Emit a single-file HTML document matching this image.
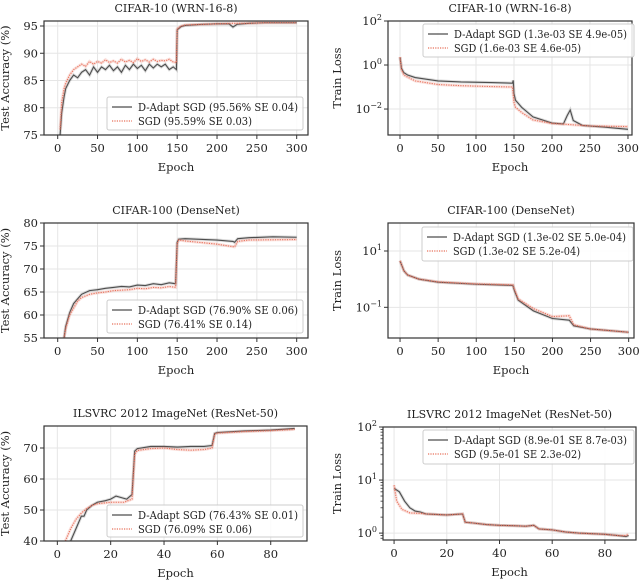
<!DOCTYPE html>
<html><head><meta charset="utf-8"><style>
html,body{margin:0;padding:0;background:#fff;}
svg{display:block;font-family:"DejaVu Serif","Liberation Serif",serif;}
</style></head><body>
<svg id="fig" width="640" height="583" viewBox="0 0 640 583" xmlns="http://www.w3.org/2000/svg"></svg>
<script>
// ---- Data ----
const c10AccEpD = [3,5,8,10,15,20,25,30,35,40,45,50,55,60,65,70,75,80,85,90,95,100,105,110,115,120,125,130,135,140,145,149,150,155,160,180,200,215,220,225,240,260,300];
const c10AccD   = [75,79,82,83.5,85,86,85.5,86.5,87,86,87.5,86.5,87.5,87,87.8,86.8,87.5,86.5,87.8,87,88,87.2,87.8,86.8,88,87.3,88,87.5,88,87,87.5,87,94.3,94.9,95.1,95.3,95.4,95.4,94.8,95.3,95.5,95.6,95.6];
const c10AccEpS = [3,5,8,10,15,20,25,30,35,40,45,50,55,60,65,70,75,80,85,90,95,100,105,110,115,120,125,130,135,140,145,149,150,155,160,180,200,220,240,260,300];
const c10AccS   = [76,81,83.5,84.5,86,87,87.5,88,87.6,88.5,88,88.5,88.2,88.8,88.3,88.6,88.2,88.9,88.4,88.7,88.3,89,88.5,88.8,88.4,88.9,88.5,88.7,88.6,88.9,88.4,88.3,94.5,95,95.2,95.3,95.4,95.5,95.5,95.6,95.6];

const c10LossEpD = [0,2,5,10,20,50,80,120,148,149,150,152,160,175,200,215,220,224,228,240,270,300];
const c10LossD   = [2.3,0.7,0.45,0.35,0.27,0.19,0.17,0.16,0.15,0.2,0.05,0.025,0.012,0.0044,0.0023,0.0021,0.005,0.009,0.003,0.0018,0.0015,0.0012];
const c10LossEpS = [0,2,5,10,20,50,80,120,148,150,152,160,175,200,220,250,300];
const c10LossS   = [2.3,0.6,0.35,0.28,0.19,0.13,0.115,0.105,0.1,0.02,0.012,0.007,0.0032,0.0022,0.002,0.0017,0.0016];

const c100AccEpD = [8,10,15,20,25,30,40,50,60,70,80,90,100,110,120,130,140,148,150,152,160,200,220,222,226,240,270,300];
const c100AccD   = [55,57.5,60.5,62.5,63.5,64.5,65.3,65.5,65.8,66,66.2,66.1,66.5,66.4,66.8,66.6,67,66.8,75.8,76.5,76.6,76.3,76,75.8,76.6,76.8,77,76.9];
const c100AccEpS = [8,10,15,20,25,30,40,50,60,70,80,90,100,110,120,130,140,148,150,152,160,200,222,226,240,300];
const c100AccS   = [55,57,60,61.5,63,63.8,64.5,64.8,65,65.3,65.4,65.5,65.8,65.7,66,65.9,66.2,66,75.5,76.3,76.1,75.4,74.8,76,76.3,76.4];

const c100LossEpD = [0,5,10,25,50,100,148,150,155,175,200,222,228,250,300];
const c100LossD   = [4.5,2.0,1.4,1.0,0.78,0.66,0.6,0.4,0.18,0.075,0.04,0.035,0.022,0.017,0.013];
const c100LossEpS = [0,5,10,25,50,100,148,150,155,175,200,222,228,250,300];
const c100LossS   = [4.5,2.0,1.4,1.0,0.8,0.68,0.63,0.45,0.2,0.09,0.047,0.05,0.024,0.017,0.013];

const inAccEpD = [5,7,9,10,11,13,15,18,20,22,24,26,28,28.5,29,30,35,40,45,50,55,58,59,60,70,80,89];
const inAccD   = [40,44,48,48,50,51.5,52.5,53,53.5,54.5,54,53.5,55,62,69,69.8,70.5,70.5,70.3,70.5,70.5,70.8,74.7,75,75.5,75.8,76.3];
const inAccEpS = [3,5,7,9,11,13,15,20,25,28,29,30,35,40,45,50,55,58,59,60,70,80,89];
const inAccS   = [40,44,47,49,50.5,51.5,52,52.5,52.5,53.5,68,69.2,69.8,70,69.5,69.3,69.5,70,74.5,74.8,75.3,75.6,76];

const inLossEpD = [0,2,4,6,8,10,12,20,26,27,30,35,40,45,50,53,55,60,65,70,80,85,88,89];
const inLossD   = [7,6,4,3,2.6,2.5,2.3,2.2,2.3,1.6,1.55,1.45,1.4,1.38,1.35,1.4,1.2,1.15,1.05,1.0,0.95,0.9,0.86,0.9];
const inLossEpS = [0,1,3,6,10,12,20,26,27,30,35,40,45,50,53,55,60,65,70,80,85,88,89];
const inLossS   = [8,4,2.8,2.4,2.35,2.3,2.2,2.3,1.6,1.55,1.45,1.4,1.38,1.35,1.4,1.2,1.15,1.05,1.0,0.95,0.9,0.9,0.95];

const ticks300 = [0,50,100,150,200,250,300];
const ticks80 = [0,20,40,60,80];

const NS = "http://www.w3.org/2000/svg";
const svg = document.getElementById('fig');
function mk(tag, attrs, parent){
  const e = document.createElementNS(NS, tag);
  for (const k in attrs) e.setAttribute(k, attrs[k]);
  (parent||svg).appendChild(e);
  return e;
}

function panel(p){
  const g = mk('g', {});
  
  
  const X = v => p.bx0 + (v - p.xmin) / (p.xmax - p.xmin) * (p.bx1 - p.bx0);
  const Y = v => { const t = p.log ? Math.log10(v) : v; return p.by1 - (t - p.ymin) / (p.ymax - p.ymin) * (p.by1 - p.by0); };
  const YT = t => p.by1 - (t - p.ymin) / (p.ymax - p.ymin) * (p.by1 - p.by0);
  p.xticks.forEach(v => {
    const l = mk('line', {x1:X(v), x2:X(v), y1:p.by0, y2:p.by1, stroke:'#e6e6e6', 'stroke-width':1}, g);
    
    
    mk('line', {x1:X(v), x2:X(v), y1:p.by1, y2:p.by1+4, stroke:'#333', 'stroke-width':1}, g);
    const t = mk('text', {x:X(v), y:p.by1+17, 'text-anchor':'middle', 'font-size':11.5, fill:'#222'}, g);
    t.textContent = v;
    
    
  });
  p.yticks.forEach(v => {
    const yy = YT(v);
    const l = mk('line', {x1:p.bx0, x2:p.bx1, y1:yy, y2:yy, stroke:'#e6e6e6', 'stroke-width':1}, g);
    
    
    mk('line', {x1:p.bx0-4, x2:p.bx0, y1:yy, y2:yy, stroke:'#333', 'stroke-width':1}, g);
    const t = mk('text', {x:p.bx0-6, y:yy+4, 'text-anchor':'end', 'font-size':11.5, fill:'#222'}, g);
    if (p.log){
      t.textContent = '10';
      const s = mk('tspan', {dy:-5, 'font-size':8}, t);
      s.textContent = v < 0 ? '\u2212' + (-v) : v;
    } else t.textContent = v;
    
    
  });
  if (p.minor){
    for (let d = Math.floor(p.ymin); d < p.ymax; d++){
      for (let m = 2; m < 10; m++){
        const t = d + Math.log10(m);
        if (t > p.ymin && t < p.ymax){ const yy = YT(t); mk('line', {x1:p.bx0-2.5, x2:p.bx0, y1:yy, y2:yy, stroke:'#333', 'stroke-width':0.8}, g); }
      }
    }
  }
  const cid = 'clip-' + p.name;
  const cp = mk('clipPath', {id:cid}, g);
  mk('rect', {x:p.bx0, y:p.by0, width:p.bx1-p.bx0, height:p.by1-p.by0}, cp);
  const series = [
    {ep:p.epD, v:p.vD, color:'#4d4d4d', dash:'', w:1.1, name:'d-adapt-sgd-line', band:'rgba(90,90,90,0.22)'},
    {ep:p.epS, v:p.vS, color:'#e8705a', dash:'1.2,1.2', w:1.1, name:'sgd-line', band:'rgba(232,120,100,0.22)'}
  ];
  series.forEach(s => {
    const d = s.ep.map((e,i) => (i?'L':'M') + X(e).toFixed(2) + ',' + Y(s.v[i]).toFixed(2)).join('');
    const b = mk('path', {d:d, fill:'none', stroke:s.band, 'stroke-width':3, 'clip-path':'url(#'+cid+')'}, g);
    
    
    const l = mk('path', {d:d, fill:'none', stroke:s.color, 'stroke-width':s.w, 'stroke-dasharray':s.dash, 'clip-path':'url(#'+cid+')'}, g);
    
    
  });
  const box = mk('rect', {x:p.bx0, y:p.by0, width:p.bx1-p.bx0, height:p.by1-p.by0, fill:'none', stroke:'#333', 'stroke-width':1.2}, g);
  
  
  const ti = mk('text', {x:(p.bx0+p.bx1)/2, y:p.by0-9, 'text-anchor':'middle', 'font-size':11, fill:'#222'}, g);
  ti.textContent = p.title;
  
  
  const xl = mk('text', {x:(p.bx0+p.bx1)/2, y:p.by1+36, 'text-anchor':'middle', 'font-size':11.5, fill:'#222'}, g);
  xl.textContent = 'Epoch';
  
  
  const yc = (p.by0+p.by1)/2;
  const yl = mk('text', {x:p.ylx, y:yc, 'text-anchor':'middle', 'font-size':11.5, fill:'#222', transform:'rotate(-90 '+p.ylx+' '+yc+')'}, g);
  yl.textContent = p.ylabel;
  
  
  const L = p.leg;
  const lg = mk('g', {}, g);
  
  
  mk('rect', {x:L.x, y:L.y, width:L.w, height:L.h, rx:2, fill:'rgba(255,255,255,0.85)', stroke:'#ccc', 'stroke-width':1}, lg);
  [[p.legD, '#4d4d4d', '', L.tl1], [p.legS, '#e8705a', '1.2,1.2', L.tl2]].forEach((it,i) => {
    const yy = L.y + 10 + i*14;
    mk('line', {x1:L.x+5, x2:L.x+25, y1:yy, y2:yy, stroke:it[1], 'stroke-width':1.3, 'stroke-dasharray':it[2]}, lg);
    const t = mk('text', {x:L.x+31, y:yy+4, 'font-size':11, fill:'#222', textLength:it[3], lengthAdjust:'spacingAndGlyphs'}, lg);
    t.textContent = it[0];
    
    
  });
}

panel({name:'cifar10-accuracy', bx0:44, bx1:308, by0:21, by1:135, xmin:-17.2, xmax:314.2, ymin:75, ymax:95.92, log:false,
  xticks:ticks300, yticks:[75,80,85,90,95], epD:c10AccEpD, vD:c10AccD, epS:c10AccEpS, vS:c10AccS,
  title:'CIFAR-10 (WRN-16-8)', ylabel:'Test Accuracy (%)', ylx:9,
  leg:{x:107,y:97,w:196,h:33,tl1:160,tl2:114}, legD:'D-Adapt SGD (95.56% SE 0.04)', legS:'SGD (95.59% SE 0.03)'});
panel({name:'cifar10-loss', bx0:388, bx1:632, by0:21, by1:135, xmin:-15.8, xmax:305.3, ymin:-3.18, ymax:2, log:true,
  xticks:ticks300, yticks:[-2,0,2], epD:c10LossEpD, vD:c10LossD, epS:c10LossEpS, vS:c10LossS,
  title:'CIFAR-10 (WRN-16-8)', ylabel:'Train Loss', ylx:341,
  leg:{x:423,y:24,w:211,h:33,tl1:173,tl2:127}, legD:'D-Adapt SGD (1.3e-03 SE 4.9e-05)', legS:'SGD (1.6e-03 SE 4.6e-05)'});
panel({name:'cifar100-accuracy', bx0:44, bx1:308, by0:223, by1:338, xmin:-17.2, xmax:314.2, ymin:55, ymax:80, log:false,
  xticks:ticks300, yticks:[55,60,65,70,75,80], epD:c100AccEpD, vD:c100AccD, epS:c100AccEpS, vS:c100AccS,
  title:'CIFAR-100 (DenseNet)', ylabel:'Test Accuracy (%)', ylx:9,
  leg:{x:107,y:300,w:196,h:33,tl1:160,tl2:114}, legD:'D-Adapt SGD (76.90% SE 0.06)', legS:'SGD (76.41% SE 0.14)'});
panel({name:'cifar100-loss', bx0:388, bx1:634, by0:223, by1:338, xmin:-15.8, xmax:307, ymin:-2.09, ymax:1.995, log:true,
  xticks:ticks300, yticks:[-1,1], epD:c100LossEpD, vD:c100LossD, epS:c100LossEpS, vS:c100LossS,
  title:'CIFAR-100 (DenseNet)', ylabel:'Train Loss', ylx:341,
  leg:{x:422,y:227,w:211,h:34,tl1:173,tl2:127}, legD:'D-Adapt SGD (1.3e-02 SE 5.0e-04)', legS:'SGD (1.3e-02 SE 5.2e-04)'});
panel({name:'imagenet-accuracy', bx0:44, bx1:307, by0:426, by1:541, xmin:-5, xmax:93.6, ymin:40, ymax:77.1, log:false,
  xticks:ticks80, yticks:[40,50,60,70], epD:inAccEpD, vD:inAccD, epS:inAccEpS, vS:inAccS,
  title:'ILSVRC 2012 ImageNet (ResNet-50)', ylabel:'Test Accuracy (%)', ylx:9,
  leg:{x:107,y:505,w:196,h:32,tl1:160,tl2:114}, legD:'D-Adapt SGD (76.43% SE 0.01)', legS:'SGD (76.09% SE 0.06)'});
panel({name:'imagenet-loss', bx0:383, bx1:636, by0:427, by1:540, xmin:-4.2, xmax:91.8, ymin:-0.13, ymax:2, log:true, minor:true,
  xticks:ticks80, yticks:[0,1,2], epD:inLossEpD, vD:inLossD, epS:inLossEpS, vS:inLossS,
  title:'ILSVRC 2012 ImageNet (ResNet-50)', ylabel:'Train Loss', ylx:341,
  leg:{x:423,y:430,w:211,h:34,tl1:173,tl2:127}, legD:'D-Adapt SGD (8.9e-01 SE 8.7e-03)', legS:'SGD (9.5e-01 SE 2.3e-02)'});
</script>
</body></html>
